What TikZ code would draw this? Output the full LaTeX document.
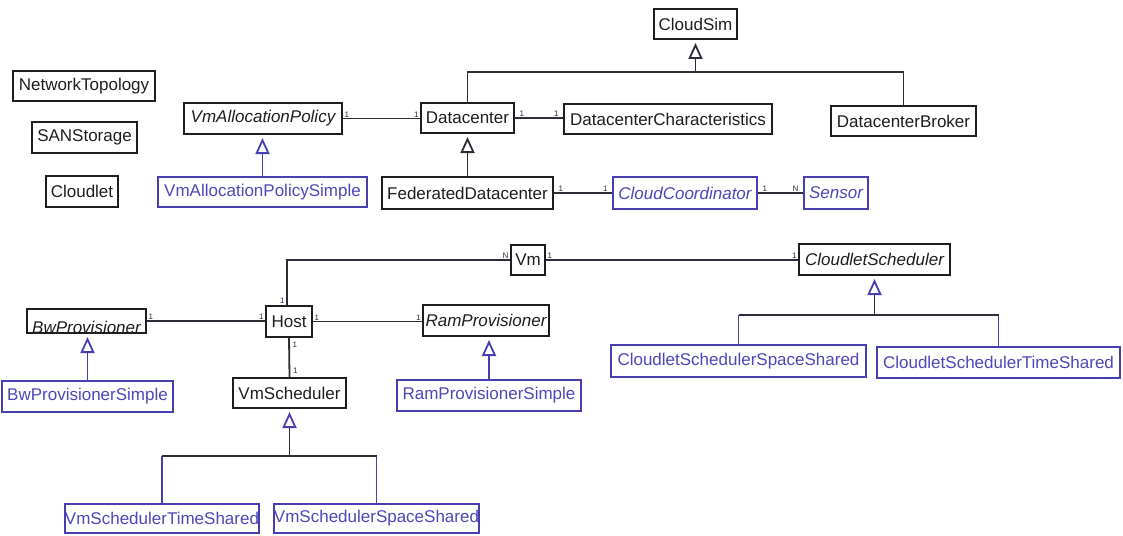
\documentclass[tikz,border=0pt]{standalone}
\usepackage{fontspec}
\setmainfont{Liberation Sans}
\usetikzlibrary{arrows.meta,calc}

\definecolor{ink}{RGB}{30,30,30}
\definecolor{wire}{RGB}{45,45,55}
\definecolor{umlblue}{RGB}{72,62,178}
\definecolor{umlbluetext}{RGB}{80,70,186}

\tikzset{
  cls/.style={draw=ink, line width=2pt, inner sep=0pt, text=ink,
              font=\fontsize{17}{20}\selectfont},
  sub/.style={cls, draw=umlblue, text=umlbluetext},
  abs/.style={font=\fontsize{17}{20}\selectfont\itshape},
  conn/.style={draw=wire, line width=1.8pt},
  bconn/.style={draw=umlblue, line width=1.8pt},
  inh/.style={-{Triangle[open, width=14pt, length=16pt, line width=1.8pt]}, shorten >=3pt},
  binh/.style={-{Triangle[open, width=14pt, length=16pt, line width=1.8pt, color=umlblue]}, shorten >=3pt},
  mult/.style={font=\fontsize{8}{9}\selectfont, inner sep=0.6pt, text=wire},
}

\begin{document}
\begin{tikzpicture}[x=1pt, y=-1pt]
\useasboundingbox (0,0) rectangle (1123,535);
\fill[white] (0,0) rectangle (1123,535);

% ---------- classes ----------
\node[cls, minimum width=83pt,  minimum height=30pt] (cloudsim) at (695.5,24)  {CloudSim};
\node[cls, minimum width=93pt,  minimum height=30pt] (dc)       at (467.5,118) {Datacenter};
\node[cls, minimum width=208pt, minimum height=30pt] (dcc)      at (668,119)   {DatacenterCharacteristics};
\node[cls, minimum width=145pt, minimum height=30pt] (broker)   at (903.5,121) {DatacenterBroker};
\node[cls, abs, minimum width=158pt, minimum height=31pt] (vap)  at (263,118.5) {VmAllocationPolicy};
\node[sub, minimum width=209pt, minimum height=30pt] (vaps)     at (262.5,192) {VmAllocationPolicySimple};

\node[cls, minimum width=142pt, minimum height=30pt] (nt)       at (84,86)     {NetworkTopology};
\node[cls, minimum width=105pt, minimum height=31pt] (san)      at (84.5,137.5) {SANStorage};
\node[cls, minimum width=72pt,  minimum height=31pt] (cloudlet) at (82,191.5)  {Cloudlet};

\node[cls, minimum width=171pt, minimum height=32pt] (fdc)      at (467.5,193) {FederatedDatacenter};
\node[sub, abs, minimum width=144pt, minimum height=32pt] (cc)   at (685,193)   {CloudCoordinator};
\node[sub, abs, minimum width=64pt,  minimum height=32pt] (sensor) at (836,193) {Sensor};

\node[cls, minimum width=34pt,  minimum height=30pt] (vm)       at (528,260)   {Vm};
\node[cls, abs, minimum width=151pt, minimum height=31pt] (cs)   at (874.5,259.5) {CloudletScheduler};
\node[cls, minimum width=46pt,  minimum height=31pt] (host)     at (289,321.5) {Host};

\node[cls, minimum width=119pt, minimum height=24pt] (bw)       at (86.5,321)  {};
\node[abs, text=ink, anchor=base, inner sep=0pt] (bwlabel) at ([yshift=0.5pt]bw.south) {BwProvisioner};
\node[sub, minimum width=171pt, minimum height=31pt] (bws)      at (87.5,396.5) {BwProvisionerSimple};

\node[cls, minimum width=113pt, minimum height=30pt] (vs)       at (289.5,393) {VmScheduler};
\node[cls, abs, minimum width=126pt, minimum height=31pt] (ram)  at (486,320.5) {RamProvisioner};
\node[sub, minimum width=184pt, minimum height=31pt] (rams)     at (489,395.5) {RamProvisionerSimple};

\node[sub, minimum width=255pt, minimum height=32pt] (css)      at (738.5,361) {CloudletSchedulerSpaceShared};
\node[sub, minimum width=243pt, minimum height=31pt] (cts)      at (998.5,362.5) {CloudletSchedulerTimeShared};

\node[sub, minimum width=192pt, minimum height=29pt] (vst)      at (162,518.5) {VmSchedulerTimeShared};
\node[sub, minimum width=201pt, minimum height=29pt] (vss)      at (376.5,518.5) {VmSchedulerSpaceShared};

% ---------- associations ----------
\draw[conn] (vap.east) -- node[mult, pos=0, anchor=south west]{1}
                          node[mult, pos=1, anchor=south east]{1} (dc.west |- vap.east);
\draw[conn] (dc.east) -- node[mult, pos=0, anchor=south west, xshift=3pt]{1}
                         node[mult, pos=1, anchor=south east, xshift=-3pt]{1} (dcc.west |- dc.east);
\draw[conn] (fdc.east) -- node[mult, pos=0, anchor=south west, xshift=3pt]{1}
                          node[mult, pos=1, anchor=south east, xshift=-3pt]{1} (cc.west);
\draw[conn] (cc.east) -- node[mult, pos=0, anchor=south west, xshift=3pt]{1}
                         node[mult, pos=1, anchor=south east, xshift=-3pt]{N} (sensor.west);
\draw[conn] ([xshift=-2pt]host.north) |- node[mult, pos=0, anchor=south east, xshift=-1pt]{1}
                                         node[mult, pos=1, anchor=south east]{N} (vm.west);
\draw[conn] (vm.east) -- node[mult, pos=0, anchor=south west]{1}
                         node[mult, pos=1, anchor=south east]{1} (cs.west |- vm.east);
\draw[conn] (bw.east) -- node[mult, pos=0, anchor=south west]{1}
                         node[mult, pos=1, anchor=south east]{1} (host.west |- bw.east);
\draw[conn] (host.east) -- node[mult, pos=0, anchor=south west]{1}
                           node[mult, pos=1, anchor=south east]{1} (ram.west |- host.east);
\draw[conn] (host.south) -- node[mult, pos=0, anchor=north west, xshift=2pt, yshift=-2pt]{1}
                            node[mult, pos=1, anchor=south west, xshift=2pt, yshift=2pt]{1} (vs.north);

% ---------- generalisations ----------
\coordinate (topbar) at (0,72);
\draw[conn] (dc.north) |- (broker.north |- topbar) -- (broker.north);
\draw[conn, inh] (cloudsim.south |- topbar) -- (cloudsim.south);
\draw[conn, inh] (fdc.north) -- (dc.south);

\draw[bconn, binh] (vaps.north) -- (vaps.north |- vap.south);
\draw[bconn, binh] (bws.north) -- (bws.north |- bw.south);
\draw[bconn, binh] (rams.north) -- (rams.north |- ram.south);

\coordinate (vsbar) at (0,456);
\draw[bconn] (vst.north) -- (vst.north |- vsbar);
\draw[bconn] (vss.north) -- (vss.north |- vsbar);
\draw[conn] (vst.north |- vsbar) -- (vss.north |- vsbar);
\draw[conn, binh] (vs.south |- vsbar) -- (vs.south);

\coordinate (csbar) at (0,315);
\draw[bconn] (css.north) -- (css.north |- csbar);
\draw[bconn] (cts.north) -- (cts.north |- csbar);
\draw[conn] (css.north |- csbar) -- (cts.north |- csbar);
\draw[conn, binh] (cs.south |- csbar) -- (cs.south);
\end{tikzpicture}
\end{document}
